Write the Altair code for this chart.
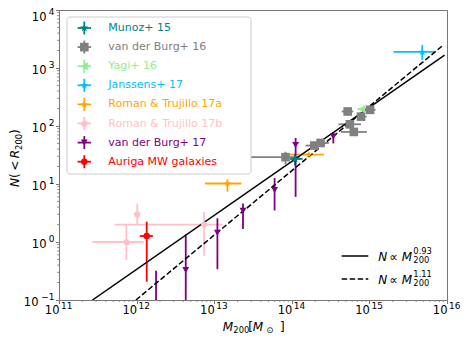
import altair as alt
import pandas as pd

FONT = "DejaVu Sans"
AX = "#777777"

# ---------------- data ----------------
names = ["Munoz+ 15", "van der Burg+ 16", "Yagi+ 16", "Janssens+ 17",
         "Roman & Trujillo 17a", "Roman & Trujillo 17b", "van der Burg+ 17",
         "Auriga MW galaxies"]
colors = ["#008080", "#808080", "#90EE90", "#00BFFF",
          "#FFA500", "#FFC0CB", "#800080", "#FF0000"]

STAR = "M0,-1L0.225,-0.309L0.951,-0.309L0.363,0.118L0.588,0.809L0,0.382L-0.588,0.809L-0.363,0.118L-0.951,-0.309L-0.225,-0.309Z"
PENT = "M0,-1L0.951,-0.309L0.588,0.809L-0.588,0.809L-0.951,-0.309Z"
shapes = [STAR, "square", "triangle-left", STAR, STAR, PENT, "triangle-down", "circle"]
msizes = [80, 42, 40, 80, 80, 36, 55, 49]
bar_op = [1, 1, 1, 1, 1, 1, 0.75, 1]

# Munoz+ 15
munoz_M = [1.1e14]
munoz_N = [27]
munoz_Mlo = [9.5e13]
munoz_Mhi = [1.38e14]
munoz_Nlo = [21]
munoz_Nhi = [33]

# van der Burg+ 16
vdb16_M = [5.25e14, 1.02e15, 7.8e14, 5.6e14, 6.3e14, 2.35e14, 1.95e14, 8.3e13]
vdb16_N = [178, 190, 145, 107, 79, 51, 46, 29]
vdb16_Mlo = [4.4e14, 8.5e14, 6.6e14, 4.0e14, 4.3e14, 1.85e14, 1.5e14, 2.0e13]
vdb16_Mhi = [6.2e14, 1.2e15, 9.2e14, 7.8e14, 9.3e14, 3.0e14, 2.5e14, 1.26e14]
vdb16_Nlo = [160, 170, 128, 95, 68, 44, 40, 22]
vdb16_Nhi = [198, 212, 164, 120, 92, 58, 53, 36]

# Yagi+ 16
yagi_M = [8.0e14]
yagi_N = [195]
yagi_Mlo = [7.0e14]
yagi_Mhi = [9.0e14]
yagi_Nlo = [185]
yagi_Nhi = [205]

# Janssens+ 17
jan_M = [4.8e15]
jan_N = [1890]
jan_Mlo = [2.05e15]
jan_Mhi = [6.9e15]
jan_Nlo = [1380]
jan_Nhi = [2500]

# Roman & Trujillo 17a
rta_M = [1.48e13, 1.66e14]
rta_N = [10.2, 32]
rta_Mlo = [7.6e12, 9.5e13]
rta_Mhi = [2.24e13, 2.6e14]
rta_Nlo = [7.4, 29]
rta_Nhi = [12, 35]

# Roman & Trujillo 17b
rtb_M = [1.02e12, 7.4e11, 7.4e12]
rtb_N = [3.0, 1.0, 2.0]
rtb_Mlo = [1.02e12, 2.7e11, 5.2e11]
rtb_Mhi = [1.02e12, 1.23e12, 1.29e13]
rtb_Nlo = [1.96, 0.49, 0.58]
rtb_Nhi = [4.6, 1.96, 3.3]

# van der Burg+ 17
vdb17_M = [1.78e12, 4.3e12, 1.1e13, 2.35e13, 6.0e13, 1.12e14, 3.43e14]
vdb17_N = [0.06, 0.33, 1.45, 3.46, 7.9, 47, 66]
vdb17_Mlo = vdb17_M
vdb17_Mhi = vdb17_M
vdb17_Nlo = [0.02, 0.02, 0.34, 1.67, 3.5, 6.0, 50]
vdb17_Nhi = [0.32, 1.36, 2.57, 4.6, 12.6, 62, 79]

# Auriga MW galaxies
aur_M = [1.35e12]
aur_N = [1.27]
aur_Mlo = [1.1e12]
aur_Mhi = [1.62e12]
aur_Nlo = [0.207]
aur_Nhi = [2.24]

# power-law fits (end points)
fit1_M = [2.7e11, 9.3e15]
fit1_N = [0.1, 1660]
fit2_M = [9.8e11, 9.0e15]
fit2_N = [0.1, 2500]

x_ticks = [1e11, 1e12, 1e13, 1e14, 1e15, 1e16]
x_exps = ["11", "12", "13", "14", "15", "16"]
y_ticks = [0.1, 1, 10, 100, 1000, 10000]
y_exps = ["\u22121", "0", "1", "2", "3", "4"]

# ---------------- tables ----------------
groups = [
    (munoz_M, munoz_N, munoz_Mlo, munoz_Mhi, munoz_Nlo, munoz_Nhi),
    (vdb16_M, vdb16_N, vdb16_Mlo, vdb16_Mhi, vdb16_Nlo, vdb16_Nhi),
    (yagi_M, yagi_N, yagi_Mlo, yagi_Mhi, yagi_Nlo, yagi_Nhi),
    (jan_M, jan_N, jan_Mlo, jan_Mhi, jan_Nlo, jan_Nhi),
    (rta_M, rta_N, rta_Mlo, rta_Mhi, rta_Nlo, rta_Nhi),
    (rtb_M, rtb_N, rtb_Mlo, rtb_Mhi, rtb_Nlo, rtb_Nhi),
    (vdb17_M, vdb17_N, vdb17_Mlo, vdb17_Mhi, vdb17_Nlo, vdb17_Nhi),
    (aur_M, aur_N, aur_Mlo, aur_Mhi, aur_Nlo, aur_Nhi),
]
rows = []
for name, g in zip(names, groups):
    for M, N, Mlo, Mhi, Nlo, Nhi in zip(*g):
        rows.append(dict(series=name, M=M, N=N, Mlo=Mlo, Mhi=Mhi, Nlo=Nlo, Nhi=Nhi))
df = pd.DataFrame(rows)

fit_df = pd.DataFrame({"M": fit1_M + fit2_M, "N": fit1_N + fit2_N,
                       "fit": ["a", "a", "b", "b"]})

xs = alt.Scale(type="log", domain=[1e11, 1e16])
ys = alt.Scale(type="log", domain=[0.1, 1e4])
xaxis = alt.Axis(values=x_ticks, labels=False, tickSize=3.5, tickColor=AX, tickWidth=1,
                 domain=False, grid=False, title=None)
yaxis = alt.Axis(values=y_ticks, labels=False, tickSize=3.5, tickColor=AX, tickWidth=1,
                 domain=False, grid=False, title=None)

color_enc = alt.Color("series:N", scale=alt.Scale(domain=names, range=colors), legend=None)
op_enc = alt.Opacity("series:N", scale=alt.Scale(domain=names, range=bar_op), legend=None)
shape_enc = alt.Shape("series:N", scale=alt.Scale(domain=names, range=shapes), legend=None)
size_enc = alt.Size("series:N", scale=alt.Scale(domain=names, range=msizes), legend=None)

base = alt.Chart(df)

hbars = base.mark_rule(strokeWidth=1.8, clip=True).encode(
    x=alt.X("Mlo:Q", scale=xs, axis=xaxis), x2="Mhi:Q",
    y=alt.Y("N:Q", scale=ys, axis=yaxis), color=color_enc, opacity=op_enc)
vbars = base.mark_rule(strokeWidth=1.8, clip=True).encode(
    x=alt.X("M:Q", scale=xs, axis=xaxis),
    y=alt.Y("Nlo:Q", scale=ys, axis=yaxis), y2="Nhi:Q", color=color_enc, opacity=op_enc)
pts = base.mark_point(filled=True, opacity=1, clip=True, strokeWidth=0).encode(
    x=alt.X("M:Q", scale=xs, axis=xaxis), y=alt.Y("N:Q", scale=ys, axis=yaxis),
    color=color_enc, shape=shape_enc, size=size_enc)

fit_solid = alt.Chart(fit_df).transform_filter("datum.fit == 'a'").mark_line(
    color="black", strokeWidth=1.5, clip=True).encode(
    x=alt.X("M:Q", scale=xs, axis=xaxis), y=alt.Y("N:Q", scale=ys, axis=yaxis))
fit_dash = alt.Chart(fit_df).transform_filter("datum.fit == 'b'").mark_line(
    color="black", strokeWidth=1.5, strokeDash=[5.5, 2.5], clip=True).encode(
    x=alt.X("M:Q", scale=xs, axis=xaxis), y=alt.Y("N:Q", scale=ys, axis=yaxis))

# minor ticks
x_minor = pd.DataFrame({"v": [k * 10.0 ** d for d in range(11, 16) for k in range(2, 10)]})
y_minor = pd.DataFrame({"v": [k * 10.0 ** d for d in range(-1, 4) for k in range(2, 10)]})
xminor = alt.Chart(x_minor).mark_rule(color=AX, strokeWidth=0.8).encode(
    x=alt.X("v:Q", scale=xs, axis=xaxis), y=alt.value(290), y2=alt.value(292))
yminor = alt.Chart(y_minor).mark_rule(color=AX, strokeWidth=0.8).encode(
    y=alt.Y("v:Q", scale=ys, axis=yaxis), x=alt.value(-2), x2=alt.value(0))

# tick labels
xl_df = pd.DataFrame({"v": x_ticks, "e": x_exps})
yl_df = pd.DataFrame({"v": y_ticks, "e": y_exps})
xlab10 = alt.Chart(xl_df).mark_text(align="right", baseline="alphabetic", dx=0.5,
                                    fontSize=11.5, color="black").encode(
    x=alt.X("v:Q", scale=xs, axis=xaxis), y=alt.value(304.3), text=alt.value("10"))
xlabsup = alt.Chart(xl_df).mark_text(align="left", baseline="alphabetic", dx=2,
                                     fontSize=9, color="black").encode(
    x=alt.X("v:Q", scale=xs, axis=xaxis), y=alt.value(298.5), text="e:N")


def ylabels(filt, shift):
    t10 = alt.Chart(yl_df).transform_filter(filt).transform_calculate(
        px="datum.v < 1 ? -20.5 : -12.5").mark_text(
        align="right", baseline="alphabetic", dy=5.5 + shift, fontSize=11.5,
        color="black").encode(
        x=alt.X("px:Q", scale=None, axis=None), y=alt.Y("v:Q", scale=ys, axis=yaxis),
        text=alt.value("10"))
    tsup = alt.Chart(yl_df).transform_filter(filt).mark_text(
        align="right", baseline="alphabetic", dy=shift, fontSize=9,
        color="black").encode(
        x=alt.value(-4.5), y=alt.Y("v:Q", scale=ys, axis=yaxis), text="e:N")
    return [t10, tsup]


ylabs = ylabels("datum.v < 10000", 0) + ylabels("datum.v >= 10000", 5)

# axis titles (pieces)
one = pd.DataFrame({"a": [0]})


def txt(s, x, y, size=12, italic=False, angle=0, align="left"):
    kw = dict(align=align, baseline="alphabetic", fontSize=size, color="black")
    if italic:
        kw["fontStyle"] = "italic"
    if angle:
        kw["angle"] = angle
    return alt.Chart(one).mark_text(**kw).encode(
        x=alt.value(x), y=alt.value(y), text=alt.value(s))


title_parts = [
    txt("M", 163.7, 320.5, italic=True),
    txt("200", 174.3, 323.2, size=8.4),
    txt("[", 189.3, 320.5),
    txt("M", 193.7, 320.5, italic=True),
    txt("\u2299", 207.2, 323.2, size=8.4),
    txt("]", 221.0, 320.5),
    # y title, rotated
    txt("N", -40, 177, italic=True, angle=270),
    txt("(", -40, 168, angle=270),
    txt("<", -40, 160.8, angle=270),
    txt("R", -40, 148.2, italic=True, angle=270),
    txt("200", -37, 139.9, size=8.4, angle=270),
    txt(")", -40, 123.9, angle=270),
]

# ---------------- legend ----------------
leg_df = pd.DataFrame({"series": names, "idx": list(range(len(names)))})
leg = alt.Chart(leg_df).transform_calculate(
    py="18 + 19.1 * datum.idx", sx="25.3",
    a="25.3 - 6.7", b="25.3 + 6.7", c="datum.py - 6.5", d="datum.py + 6.5")
frame = alt.Chart(one).mark_rect(fill="white", stroke="#cccccc", strokeWidth=1,
                                  cornerRadius=3).encode(
    x=alt.value(8), x2=alt.value(192), y=alt.value(7), y2=alt.value(164))
leg_h = leg.mark_rule(strokeWidth=1.8).encode(
    x=alt.X("a:Q", scale=None, axis=None), x2="b:Q",
    y=alt.Y("py:Q", scale=None, axis=None), color=color_enc, opacity=op_enc)
leg_v = leg.mark_rule(strokeWidth=1.8).encode(
    x=alt.X("sx:Q", scale=None, axis=None),
    y=alt.Y("c:Q", scale=None, axis=None), y2="d:Q", color=color_enc, opacity=op_enc)
leg_p = leg.mark_point(filled=True, opacity=1, strokeWidth=0).encode(
    x=alt.X("sx:Q", scale=None, axis=None), y=alt.Y("py:Q", scale=None, axis=None),
    color=color_enc, shape=shape_enc, size=size_enc)
leg_t = leg.mark_text(align="left", baseline="middle", fontSize=11).encode(
    x=alt.value(49.3), y=alt.Y("py:Q", scale=None, axis=None), text="series:N",
    color=color_enc)

# fit legend
fl1 = alt.Chart(one).mark_rule(color="black", strokeWidth=1.5).encode(
    x=alt.value(282.7), x2=alt.value(309.3), y=alt.value(246))
fl2 = alt.Chart(one).mark_rule(color="black", strokeWidth=1.5, strokeDash=[5.5, 2.5]).encode(
    x=alt.value(282.7), x2=alt.value(309.3), y=alt.value(269))
fit_parts = []
for dy, expo in [(0, "0.93"), (23, "1.11")]:
    fit_parts += [
        txt("N", 319.3, 250.7 + dy, italic=True),
        txt("\u221d", 330.3, 250.7 + dy),
        txt("M", 342.7, 250.7 + dy, italic=True),
        txt("200", 354.3, 253.4 + dy, size=8.4),
        txt(expo, 354.3, 244.2 + dy, size=8.4),
    ]

layers = [xminor, yminor, hbars, vbars, fit_solid, fit_dash, pts,
          xlab10, xlabsup] + ylabs + title_parts + \
         [frame, leg_h, leg_v, leg_p, leg_t, fl1, fl2] + fit_parts

chart = alt.layer(*layers).properties(
    width=388, height=290,
    padding={"left": 51, "top": 2, "right": 14, "bottom": 34},
    autosize=alt.AutoSizeParams(type="none"),
).configure(font=FONT).configure_view(stroke=AX, strokeWidth=1)

chart.save("out.html", embed_options={"renderer": "svg", "actions": False})
